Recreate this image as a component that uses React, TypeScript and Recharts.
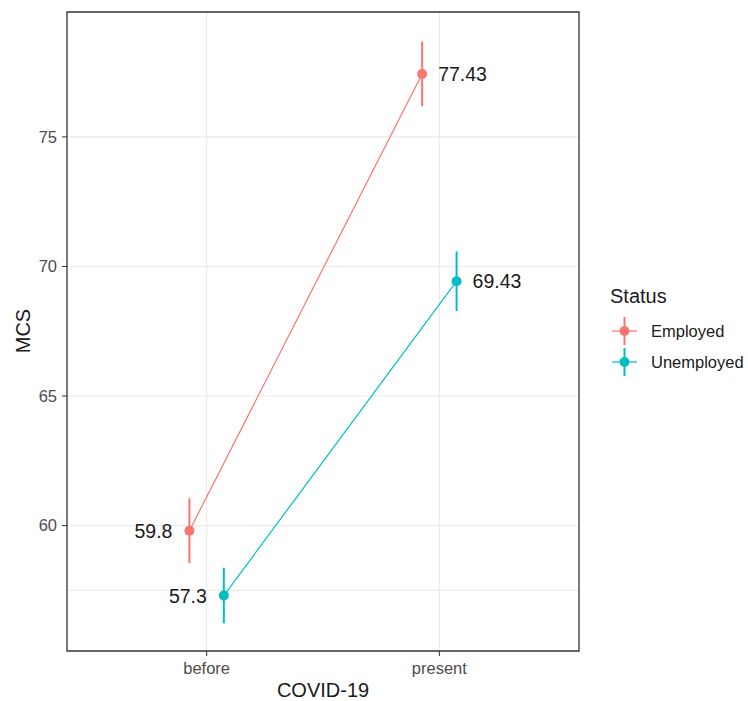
import * as React from "react"
import { ComposedChart, Scatter, ErrorBar, XAxis, YAxis, CartesianGrid, ReferenceArea } from "recharts"

const groups = ["before", "present"]
const employedMean = [59.8, 77.43]
const employedErr = [1.25, 1.25]
const unemployedMean = [57.3, 69.43]
const unemployedErr = [1.07, 1.15]
const yTicks = [60, 65, 70, 75]
const yMinor = [57.5, 62.5, 67.5, 72.5, 77.5]

const FONT = "'Liberation Sans', Arial, sans-serif"
const RED = "#F8766D"
const TEAL = "#00BFC4"
const DODGE = 0.074
const X_DOMAIN: [number, number] = [0.4, 2.6]
const Y_DOMAIN: [number, number] = [55.16, 79.82]

const toRows = (means: number[], errs: number[], offset: number) =>
  means.map((m, i) => ({ x: i + 1 + offset, y: m, err: errs[i] }))

const employedRows = toRows(employedMean, employedErr, -DODGE)
const unemployedRows = toRows(unemployedMean, unemployedErr, DODGE)

const pointShape = (color: string) => (props: any) => {
  const { cx, cy, payload } = props
  const left = payload.x < 1.5
  return (
    <g>
      <circle cx={cx} cy={cy} r={5} fill={color} />
      <text
        x={left ? cx - 17 : cx + 16}
        y={cy + 7}
        textAnchor={left ? "end" : "start"}
        fontSize={19.5}
        fontFamily={FONT}
        fill="#1a1a1a"
      >
        {payload.y}
      </text>
    </g>
  )
}

const LegendKey = ({ y, color, label }: { y: number; color: string; label: string }) => (
  <g>
    <line x1={612} x2={637} y1={y} y2={y} stroke={color} strokeWidth={1.2} />
    <line x1={624.5} x2={624.5} y1={y - 14} y2={y + 14} stroke={color} strokeWidth={2} />
    <circle cx={624.5} cy={y} r={5} fill={color} />
    <text x={651} y={y + 6} fontSize={16.5} fontFamily={FONT} fill="#1a1a1a">{label}</text>
  </g>
)

export default function App() {
  return (
    <div style={{ position: "absolute", left: 0, top: 0, background: "#fff" }}>
      <ComposedChart width={748} height={701} margin={{ top: 12, right: 169, bottom: 0, left: 0 }}>
        <CartesianGrid
          stroke="#EBEBEB"
          strokeWidth={1.2}
          horizontalValues={[...yMinor, ...yTicks]}
          verticalValues={[1, 2]}
        />
        <XAxis
          type="number"
          dataKey="x"
          domain={X_DOMAIN}
          ticks={[1, 2]}
          allowDataOverflow
          height={50}
          axisLine={false}
          tickSize={5}
          tickMargin={6}
          tickLine={{ stroke: "#333333" }}
          tick={{ fill: "#4D4D4D", fontSize: 16.5, fontFamily: FONT }}
          tickFormatter={(v: number) => groups[v - 1]}
        />
        <YAxis
          type="number"
          dataKey="y"
          domain={Y_DOMAIN}
          ticks={yTicks}
          allowDataOverflow
          width={67}
          axisLine={false}
          tickSize={5}
          tickMargin={5}
          tickLine={{ stroke: "#333333" }}
          tick={{ fill: "#4D4D4D", fontSize: 16.5, fontFamily: FONT }}
        />
        <Scatter
          data={employedRows}
          fill={RED}
          line={{ stroke: RED, strokeWidth: 1.2 }}
          lineType="joint"
          shape={pointShape(RED)}
          isAnimationActive={false}
        >
          <ErrorBar dataKey="err" direction="y" width={0} stroke={RED} strokeWidth={2} />
        </Scatter>
        <Scatter
          data={unemployedRows}
          fill={TEAL}
          line={{ stroke: TEAL, strokeWidth: 1.2 }}
          lineType="joint"
          shape={pointShape(TEAL)}
          isAnimationActive={false}
        >
          <ErrorBar dataKey="err" direction="y" width={0} stroke={TEAL} strokeWidth={2} />
        </Scatter>
        <ReferenceArea
          x1={X_DOMAIN[0]}
          x2={X_DOMAIN[1]}
          y1={Y_DOMAIN[0]}
          y2={Y_DOMAIN[1]}
          fill="none"
          fillOpacity={0}
          stroke="#333333"
          strokeWidth={1.3}
          ifOverflow="visible"
        />
        <text x={323} y={697} textAnchor="middle" fontSize={20} fontFamily={FONT} fill="#1a1a1a">COVID-19</text>
        <text
          x={30}
          y={331}
          textAnchor="middle"
          fontSize={20}
          fontFamily={FONT}
          fill="#1a1a1a"
          transform="rotate(-90 30 331)"
        >
          MCS
        </text>
        <text x={610} y={303} fontSize={20} fontFamily={FONT} fill="#1a1a1a">Status</text>
        <LegendKey y={331} color={RED} label="Employed" />
        <LegendKey y={362} color={TEAL} label="Unemployed" />
      </ComposedChart>
    </div>
  )
}
